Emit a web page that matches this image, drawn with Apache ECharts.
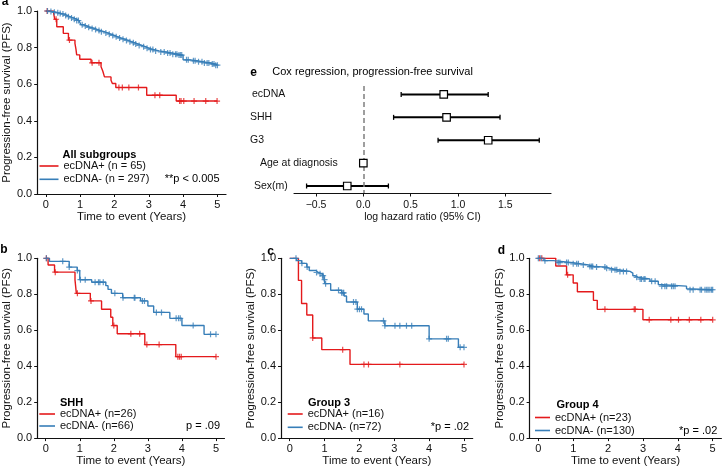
<!DOCTYPE html>
<html><head><meta charset="utf-8">
<script src="https://cdn.jsdelivr.net/npm/echarts@6/dist/echarts.min.js"></script>
<style>html,body{margin:0;padding:0;background:#fff}#c{width:722px;height:468px}</style>
</head><body><div id="c"></div>
<script>
// ---------------- DATA ----------------
const timeTicks = [0, 1, 2, 3, 4, 5];
const survTicks = [0, 0.2, 0.4, 0.6, 0.8, 1.0];

// Panel a: All subgroups
const aPosSteps = [[0,1],[0.23,0.985],[0.26,0.955],[0.32,0.914],[0.51,0.878],[0.66,0.841],[0.85,0.823],[0.88,0.79],[0.9,0.76],[0.99,0.736],[1.32,0.717],[1.61,0.695],[1.66,0.672],[1.71,0.64],[1.9,0.622],[1.94,0.604],[2.04,0.582],[2.94,0.54],[3.8,0.508],[5.0,0.508]];
const aPosCens = [0.04,0.3,0.69,1.35,1.55,2.13,2.23,2.42,2.7,3.18,3.32,3.9,3.94,4.02,4.32,4.66,4.99];
const aNegSteps = [[0,1],[0.1,0.997],[0.2,0.993],[0.3,0.99],[0.38,0.986],[0.45,0.983],[0.55,0.976],[0.62,0.969],[0.7,0.962],[0.8,0.955],[0.9,0.948],[0.97,0.94],[1.02,0.925],[1.1,0.918],[1.2,0.911],[1.3,0.905],[1.42,0.899],[1.5,0.893],[1.6,0.887],[1.7,0.88],[1.8,0.873],[1.9,0.866],[2.0,0.859],[2.1,0.852],[2.2,0.846],[2.3,0.839],[2.4,0.832],[2.5,0.826],[2.6,0.819],[2.7,0.812],[2.8,0.805],[2.9,0.797],[3.0,0.789],[3.15,0.782],[3.3,0.776],[3.5,0.77],[3.7,0.764],[3.85,0.759],[4.0,0.733],[4.2,0.728],[4.4,0.722],[4.6,0.716],[4.8,0.71],[4.95,0.704],[5.0,0.704]];
const aNegCens = [0.05,0.15,0.25,0.35,0.42,0.5,0.58,0.66,0.75,0.83,0.9,0.95,1.06,1.15,1.25,1.35,1.45,1.55,1.62,1.75,1.85,1.95,2.05,2.15,2.25,2.35,2.45,2.55,2.62,2.72,2.85,2.95,3.05,3.12,3.2,3.35,3.45,3.55,3.62,3.7,3.78,3.82,3.88,3.92,3.96,4.1,4.15,4.3,4.35,4.45,4.55,4.62,4.7,4.75,4.85,4.9,4.95,5.0];

// Panel b: SHH
const bPosSteps = [[0,1],[0.07,0.963],[0.26,0.923],[0.86,0.88],[0.9,0.805],[1.31,0.763],[1.64,0.717],[1.91,0.672],[1.97,0.626],[2.1,0.58],[2.91,0.52],[3.82,0.453],[5.0,0.453]];
const bPosCens = [0.02,0.28,0.93,1.33,2.0,2.5,2.76,2.97,3.33,3.88,3.93,3.98,5.0];
const bNegSteps = [[0,1],[0.11,0.983],[0.69,0.951],[0.925,0.932],[1.0,0.881],[1.35,0.867],[1.765,0.848],[1.83,0.827],[1.93,0.805],[2.26,0.781],[2.785,0.763],[3.0,0.735],[3.17,0.699],[3.645,0.666],[4.0,0.626],[4.65,0.577],[5.0,0.577]];
const bNegCens = [0.02,0.5,0.69,0.93,1.02,1.16,1.45,1.55,1.59,1.69,2.03,2.27,2.6,2.62,2.84,2.9,3.25,3.4,3.83,3.9,3.95,4.33,4.84,5.0];

// Panel c: Group 3
const cPosSteps = [[0,1],[0.25,0.877],[0.34,0.749],[0.49,0.685],[0.66,0.557],[0.92,0.492],[1.73,0.41],[5.0,0.41]];
const cPosCens = [0.66,1.52,2.13,2.26,3.16,5.0];
const cNegSteps = [[0,1],[0.2,0.987],[0.34,0.972],[0.49,0.951],[0.56,0.932],[0.75,0.921],[0.82,0.914],[0.92,0.903],[0.985,0.881],[1.01,0.859],[1.175,0.822],[1.49,0.808],[1.56,0.79],[1.63,0.757],[1.94,0.717],[2.13,0.69],[2.255,0.652],[2.73,0.625],[4.0,0.552],[4.84,0.505],[5.0,0.505]];
const cNegCens = [0.18,0.35,0.5,0.77,0.87,0.94,0.96,1.0,1.03,1.4,1.49,1.53,1.55,1.83,1.9,1.94,2.0,2.06,2.69,2.73,3.02,3.16,3.35,3.5,4.0,4.5,4.55,4.89,5.0];

// Panel d: Group 4
const dPosSteps = [[0,1],[0.5,0.957],[0.81,0.908],[1.0,0.863],[1.12,0.814],[1.58,0.766],[1.69,0.716],[3.0,0.658],[5.0,0.658]];
const dPosCens = [0.03,0.1,0.84,1.91,2.75,2.78,3.18,3.8,4.02,4.33,4.66,5.0];
const dNegSteps = [[0,1],[0.16,0.987],[0.43,0.976],[1.0,0.969],[1.24,0.963],[1.44,0.954],[1.63,0.951],[1.94,0.945],[2.04,0.936],[2.27,0.927],[2.63,0.918],[2.71,0.903],[2.77,0.894],[2.87,0.885],[3.2,0.872],[3.44,0.854],[3.49,0.845],[4.25,0.831],[4.3,0.825],[5.0,0.825]];
const dNegCens = [0.0,0.07,0.19,0.57,0.62,0.81,0.86,1.0,1.1,1.15,1.29,1.48,1.53,1.56,1.67,1.91,1.96,2.1,2.2,2.25,2.34,2.44,2.53,2.82,2.92,2.96,3.03,3.06,3.25,3.35,3.54,3.63,3.68,3.82,3.87,3.92,4.35,4.44,4.64,4.68,4.78,4.83,4.87,4.92,4.97,5.0];

const posNames = ['ecDNA+ (n = 65)', 'ecDNA+ (n=26)', 'ecDNA+ (n=16)', 'ecDNA+ (n=23)'];
const negNames = ['ecDNA- (n = 297)', 'ecDNA- (n=66)', 'ecDNA- (n=72)', 'ecDNA- (n=130)'];
const groupTitles = ['All subgroups', 'SHH', 'Group 3', 'Group 4'];
const pTexts = ['**p < 0.005', 'p = .09', '*p = .02', '*p = .02'];
const panelLetters = ['a', 'b', 'c', 'd', 'e'];

// Panel e: Cox regression
const coxVars = ['ecDNA', 'SHH', 'G3', 'Age at diagnosis', 'Sex(m)'];
const coxCoef = [0.85, 0.88, 1.32, 0.0, -0.17];
const coxLow  = [0.40, 0.32, 0.79, -0.01, -0.60];
const coxHigh = [1.32, 1.445, 1.86, 0.01, 0.265];
const coxTicks = [-0.5, 0, 0.5, 1.0, 1.5];
const coxTickLabels = ['\u22120.5', '0.0', '0.5', '1.0', '1.5'];
const coxTitle = 'Cox regression, progression-free survival';
const coxXName = 'log hazard ratio (95% CI)';

// ---------------- CHART ----------------
const FONT = 'Liberation Sans, Arial, sans-serif';
const RED = '#E41A1C', BLUE = '#377EB8', INK = '#111';
const panels = [
  {pos: aPosSteps, posC: aPosCens, neg: aNegSteps, negC: aNegCens},
  {pos: bPosSteps, posC: bPosCens, neg: bNegSteps, negC: bNegCens},
  {pos: cPosSteps, posC: cPosCens, neg: cNegSteps, negC: cNegCens},
  {pos: dPosSteps, posC: dPosCens, neg: dNegSteps, negC: dNegCens}
];
const grids = [
  {left: 34, top: 11, width: 192, height: 183},
  {left: 32.3, top: 258.3, width: 192.2, height: 182.7},
  {left: 281, top: 258.3, width: 191.7, height: 182.4},
  {left: 529.6, top: 258.3, width: 191.8, height: 182.4},
  {left: 294, top: 86, width: 257, height: 107}
];
const legendPos = [
  {left: 39.5, top: 160, itemWidth: 19, itemGap: 1.3},
  {left: 39.3, top: 408, itemWidth: 15.7, itemGap: 0},
  {left: 287.7, top: 408, itemWidth: 15, itemGap: 1.3},
  {left: 535, top: 411.5, itemWidth: 15, itemGap: 1}
];
const textLayout = [
  {letter: [5, 2], title: [62.5, 155], p: [219.5, 179.3]},
  {letter: [4, 250], title: [60, 402.7], p: [220, 426]},
  {letter: [270.5, 251.5], title: [308, 402.7], p: [469, 427]},
  {letter: [501.5, 250.5], title: [556.5, 405.3], p: [717.3, 430.5]}
];

function survAt(steps, t) {
  let s = steps[0][1];
  for (const [x, y] of steps) { if (x <= t) s = y; else break; }
  return s;
}
const CROSS = 'path://M4,0H6V10H4ZM0,4H10V6H0Z';

const xAxes = [], yAxes = [], series = [], legends = [], graphics = [];
panels.forEach((p, k) => {
  xAxes.push({
    gridIndex: k, type: 'value', min: -0.25, max: 5.25,
    name: 'Time to event (Years)', nameLocation: 'middle', nameGap: 14,
    nameTextStyle: {fontSize: 11.5, color: INK, fontFamily: FONT},
    axisLine: {onZero: false, lineStyle: {color: INK, width: 1.2}},
    axisTick: {customValues: timeTicks, length: 3, lineStyle: {color: INK, width: 1}},
    axisLabel: {customValues: timeTicks, margin: 5, fontSize: 11, color: INK, fontFamily: FONT},
    splitLine: {show: false}
  });
  yAxes.push({
    gridIndex: k, type: 'value', min: 0, max: 1, interval: 0.2,
    name: 'Progression-free survival (PFS)', nameLocation: 'middle', nameGap: 22,
    nameTextStyle: {fontSize: 11.5, color: INK, fontFamily: FONT},
    axisLine: {show: true, onZero: false, lineStyle: {color: INK, width: 1.2}},
    axisTick: {show: true, length: 3, lineStyle: {color: INK, width: 1}},
    axisLabel: {customValues: survTicks, margin: 5, fontSize: 11, color: INK, fontFamily: FONT,
      formatter: v => v.toFixed(1)},
    splitLine: {show: false}
  });
  const mk = (name, steps, color) => ({
    name, type: 'line', xAxisIndex: k, yAxisIndex: k, step: 'end', data: steps,
    symbol: 'none', showSymbol: false, color, lineStyle: {color, width: 1.4}, z: 3
  });
  const cens = (steps, times, color) => ({
    type: 'scatter', xAxisIndex: k, yAxisIndex: k, symbol: CROSS, symbolSize: 6,
    itemStyle: {color}, data: times.map(t => [t, survAt(steps, t)]), z: 4, silent: true
  });
  series.push(mk(posNames[k], p.pos, RED), mk(negNames[k], p.neg, BLUE),
              cens(p.pos, p.posC, RED), cens(p.neg, p.negC, BLUE));
  const L = legendPos[k];
  legends.push({
    orient: 'vertical', left: L.left, top: L.top, itemWidth: L.itemWidth, itemHeight: 1.6,
    itemGap: L.itemGap, icon: 'rect', padding: 0, selectedMode: false,
    textStyle: {fontSize: 11, lineHeight: 12, color: INK, fontFamily: FONT},
    data: [posNames[k], negNames[k]]
  });
  const T = textLayout[k];
  graphics.push(
    {type: 'text', x: T.letter[0], y: T.letter[1], style: {text: panelLetters[k], font: 'bold 12px ' + FONT, fill: '#000', align: 'center', verticalAlign: 'middle'}},
    {type: 'text', x: T.title[0], y: T.title[1], style: {text: groupTitles[k], font: 'bold 11px ' + FONT, fill: '#000', align: 'left', verticalAlign: 'middle'}},
    {type: 'text', x: T.p[0], y: T.p[1], style: {text: pTexts[k], font: '11px ' + FONT, fill: '#000', align: 'right', verticalAlign: 'middle'}}
  );
});

// Forest plot axes
xAxes.push({
  gridIndex: 4, type: 'value', min: -0.733, max: 1.984,
  name: coxXName, nameLocation: 'middle', nameGap: 18.5,
  nameTextStyle: {fontSize: 10.5, color: INK, fontFamily: FONT},
  axisLine: {onZero: false, lineStyle: {color: INK, width: 1.1}},
  axisTick: {customValues: coxTicks, length: 3.5, lineStyle: {color: INK, width: 1}},
  axisLabel: {customValues: coxTicks, margin: 7, fontSize: 10.5, color: INK, fontFamily: FONT,
    formatter: v => coxTickLabels[coxTicks.indexOf(v)] ?? String(v)},
  splitLine: {show: false}
});
const rich = {};
const pads = [2, 0, 0, 10, 4];
coxVars.forEach((n, i) => { rich['l' + i] = {padding: [0, 0, 0, pads[i]], fontSize: 10.5, color: INK, fontFamily: FONT}; });
yAxes.push({
  gridIndex: 4, type: 'value', inverse: true, min: -0.37, max: 4.306,
  axisLine: {show: false, onZero: false}, axisTick: {show: false}, splitLine: {show: false},
  axisLabel: {customValues: [0, 1, 2, 3, 4], align: 'left', margin: 44, fontSize: 10.5, color: INK, fontFamily: FONT,
    formatter: v => '{l' + v + '|' + coxVars[v] + '}', rich}
});
series.push({
  type: 'custom', xAxisIndex: 4, yAxisIndex: 4, silent: true, z: 3,
  data: coxVars.map((n, i) => [coxLow[i], coxHigh[i], i]),
  renderItem: (params, api) => {
    const lo = api.coord([api.value(0), api.value(2)]);
    const hi = api.coord([api.value(1), api.value(2)]);
    const h = 2.5;
    return {type: 'group', children: [
      {type: 'line', shape: {x1: lo[0], y1: lo[1], x2: hi[0], y2: hi[1]}, style: {stroke: '#000', lineWidth: 2}},
      {type: 'line', shape: {x1: lo[0], y1: lo[1] - h, x2: lo[0], y2: lo[1] + h}, style: {stroke: '#000', lineWidth: 1.3}},
      {type: 'line', shape: {x1: hi[0], y1: hi[1] - h, x2: hi[0], y2: hi[1] + h}, style: {stroke: '#000', lineWidth: 1.3}}
    ]};
  }
});
series.push({
  type: 'scatter', xAxisIndex: 4, yAxisIndex: 4, symbol: 'rect', symbolSize: 7.5, z: 5, silent: true,
  itemStyle: {color: '#ffffff', opacity: 1, borderColor: '#000', borderWidth: 1.2},
  emphasis: {disabled: true},
  data: coxVars.map((n, i) => [coxCoef[i], i]),
  markLine: {silent: true, symbol: 'none', label: {show: false},
    lineStyle: {color: '#7f7f7f', type: [5, 3], width: 1.5},
    data: [{xAxis: 0}]}
});
graphics.push(
  {type: 'text', x: 253.5, y: 72.3, style: {text: panelLetters[4], font: 'bold 12px ' + FONT, fill: '#000', align: 'center', verticalAlign: 'middle'}},
  {type: 'text', x: 272.3, y: 72.3, style: {text: coxTitle, font: '11px ' + FONT, fill: '#000', align: 'left', verticalAlign: 'middle'}}
);

const chart = echarts.init(document.getElementById('c'), null, {renderer: 'canvas'});
chart.setOption({
  animation: false, backgroundColor: '#fff',
  textStyle: {fontFamily: FONT},
  grid: grids, xAxis: xAxes, yAxis: yAxes, series, legend: legends, graphic: graphics
});
</script></body></html>
